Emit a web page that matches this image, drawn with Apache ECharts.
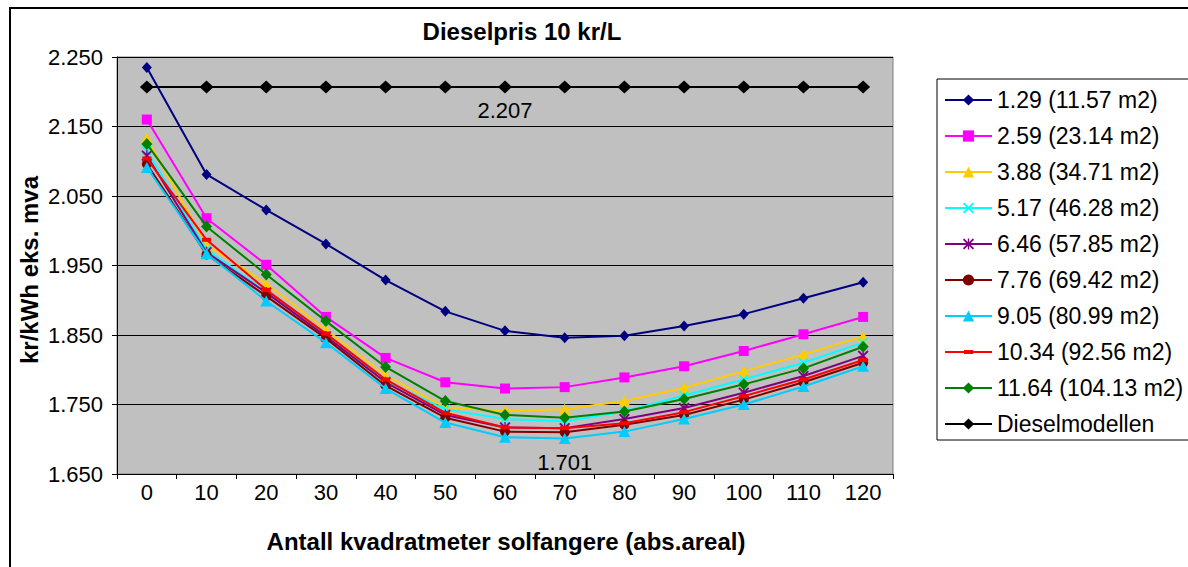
<!DOCTYPE html>
<html>
<head>
<meta charset="utf-8">
<script src="https://cdn.jsdelivr.net/npm/echarts@6/dist/echarts.min.js"></script>
<style>
  html, body { margin: 0; padding: 0; background: #fff; }
  #chart { width: 1188px; height: 567px; }
</style>
</head>
<body>
<div id="chart"></div>
<script>
// Collector area on the x axis (m2)
const categories = ['0', '10', '20', '30', '40', '50', '60', '70', '80', '90', '100', '110', '120'];

// Value axis range
const yMin = 1.65;
const yMax = 2.25;
const yStep = 0.1;

// Cost in kr/kWh (excl. VAT) per configuration
const s1_29  = [2.235, 2.081, 2.030, 1.981, 1.929, 1.884, 1.856, 1.846, 1.849, 1.863, 1.880, 1.903, 1.926];
const s2_59  = [2.160, 2.018, 1.951, 1.876, 1.817, 1.782, 1.773, 1.775, 1.789, 1.805, 1.827, 1.851, 1.876];
const s3_88  = [2.133, 1.980, 1.924, 1.858, 1.792, 1.746, 1.741, 1.743, 1.755, 1.774, 1.798, 1.822, 1.848];
const s5_17  = [2.115, 1.973, 1.912, 1.848, 1.784, 1.743, 1.729, 1.726, 1.740, 1.763, 1.786, 1.810, 1.839];
const s6_46  = [2.108, 1.969, 1.911, 1.848, 1.782, 1.735, 1.717, 1.716, 1.729, 1.745, 1.767, 1.791, 1.820];
const s7_76  = [2.096, 1.966, 1.906, 1.845, 1.777, 1.731, 1.711, 1.710, 1.721, 1.735, 1.757, 1.782, 1.810];
const s9_05  = [2.091, 1.967, 1.899, 1.839, 1.773, 1.724, 1.703, 1.701, 1.711, 1.729, 1.750, 1.776, 1.805];
const s10_34 = [2.104, 1.987, 1.915, 1.852, 1.786, 1.738, 1.717, 1.716, 1.723, 1.739, 1.762, 1.786, 1.814];
const s11_64 = [2.125, 2.006, 1.937, 1.870, 1.804, 1.755, 1.735, 1.731, 1.740, 1.758, 1.779, 1.802, 1.833];
const diesel = [2.207, 2.207, 2.207, 2.207, 2.207, 2.207, 2.207, 2.207, 2.207, 2.207, 2.207, 2.207, 2.207];

const seriesNames = [
  '1.29 (11.57 m2)', '2.59 (23.14 m2)', '3.88 (34.71 m2)', '5.17 (46.28 m2)',
  '6.46 (57.85 m2)', '7.76 (69.42 m2)', '9.05 (80.99 m2)', '10.34 (92.56 m2)',
  '11.64 (104.13 m2)', 'Dieselmodellen'
];
const seriesValues = [s1_29, s2_59, s3_88, s5_17, s6_46, s7_76, s9_05, s10_34, s11_64, diesel];

const FONT = '"Liberation Sans", Arial, sans-serif';

// Marker shapes
const CROSS = 'path://M0,1.2L1.2,0L5,3.8L8.8,0L10,1.2L6.2,5L10,8.8L8.8,10L5,6.2L1.2,10L0,8.8L3.8,5Z';
const STAR = 'path://M0,1.2L1.2,0L5,3.8L8.8,0L10,1.2L6.2,5L10,8.8L8.8,10L5,6.2L1.2,10L0,8.8L3.8,5Z M4.4,0L5.6,0L5.6,10L4.4,10Z';
// Legend key for the dash-marker series: a thin line with a short bar in the middle
const DASH_KEY = 'path://M0,1L47,1L47,3L0,3Z M19,0L28,0L28,4L19,4Z';

const styles = [
  { color: '#000080', symbol: 'diamond', size: [10, 11] },
  { color: '#FF00FF', symbol: 'rect', size: [10, 10] },
  { color: '#FFCC00', symbol: 'triangle', size: [12, 11] },
  { color: '#00FFFF', symbol: CROSS, size: [10, 10] },
  { color: '#800080', symbol: STAR, size: [11, 11] },
  { color: '#800000', symbol: 'circle', size: [10, 10] },
  { color: '#00CCFF', symbol: 'triangle', size: [12, 11] },
  { color: '#FF0000', symbol: 'rect', size: [9, 4], legendIcon: DASH_KEY },
  { color: '#008000', symbol: 'diamond', size: [11, 12] },
  { color: '#000000', symbol: 'diamond', size: [14, 13] }
];

const valueLabel = (distance) => ({
  show: true,
  position: 'bottom',
  distance: distance,
  formatter: (p) => p.value.toFixed(3),
  fontSize: 22,
  fontFamily: FONT,
  color: '#000'
});

// Lowest point of the 9.05 curve and one point of the diesel line carry value labels
const minIndex = s9_05.indexOf(Math.min(...s9_05));
const dieselLabelIndex = 6;

const series = seriesValues.map((vals, k) => {
  const st = styles[k];
  let data = vals.slice();
  if (k === 6) {
    data = vals.map((v, i) => (i === minIndex ? { value: v, label: valueLabel(7) } : v));
  } else if (k === 9) {
    data = vals.map((v, i) => (i === dieselLabelIndex ? { value: v, label: valueLabel(6) } : v));
  }
  return {
    name: seriesNames[k],
    type: 'line',
    data: data,
    symbol: st.symbol,
    symbolSize: st.size,
    showAllSymbol: true,
    lineStyle: { color: st.color, width: 2 },
    itemStyle: { color: st.color, opacity: 1 },
    emphasis: { disabled: true },
    z: 2 + k
  };
});

const legendData = seriesNames.map((name, k) =>
  styles[k].legendIcon ? { name: name, icon: styles[k].legendIcon } : { name: name }
);

const chart = echarts.init(document.getElementById('chart'), null, { renderer: 'svg' });

chart.setOption({
  animation: false,
  backgroundColor: '#fff',
  textStyle: { fontFamily: FONT },
  grid: {
    left: 117, top: 57, width: 776, height: 417,
    show: true, backgroundColor: '#C0C0C0', borderColor: '#808080', borderWidth: 1,
    containLabel: false, outerBoundsMode: 'none'
  },
  xAxis: {
    type: 'category',
    data: categories,
    boundaryGap: true,
    axisLine: { show: true, lineStyle: { color: '#000', width: 1 } },
    axisTick: { show: true, length: 5, alignWithLabel: false, lineStyle: { color: '#000' } },
    axisLabel: { color: '#000', fontSize: 22, fontFamily: FONT, margin: 7 },
    splitLine: { show: false }
  },
  yAxis: {
    type: 'value',
    min: yMin, max: yMax, interval: yStep,
    axisLine: { show: true, lineStyle: { color: '#000', width: 1 } },
    axisTick: { show: true, length: 5, lineStyle: { color: '#000' } },
    axisLabel: { color: '#000', fontSize: 22, fontFamily: FONT, margin: 14, formatter: (v) => v.toFixed(3) },
    splitLine: { show: true, lineStyle: { color: '#000', width: 1 } }
  },
  legend: {
    orient: 'vertical',
    left: 937, top: 79,
    itemWidth: 47, itemHeight: 14, itemGap: 12,
    padding: [9, 14, 4, 7],
    borderColor: '#000', borderWidth: 1,
    backgroundColor: '#fff',
    selectedMode: false,
    textStyle: { fontSize: 23, color: '#000', fontFamily: FONT, lineHeight: 24 },
    data: legendData
  },
  graphic: [
    {
      type: 'rect', silent: true, z: 100,
      shape: { x: 10, y: 8, width: 1190, height: 600 },
      style: { fill: 'transparent', stroke: '#000', lineWidth: 2 }
    },
    {
      type: 'text', x: 522, y: 31, silent: true,
      style: { text: 'Dieselpris 10 kr/L', fontSize: 24, fontWeight: 'bold', fontFamily: FONT, fill: '#000', align: 'center', verticalAlign: 'middle' }
    },
    {
      type: 'text', x: 29, y: 270, rotation: Math.PI / 2, silent: true,
      style: { text: 'kr/kWh eks. mva', fontSize: 24, fontWeight: 'bold', fontFamily: FONT, fill: '#000', align: 'center', verticalAlign: 'middle' }
    },
    {
      type: 'text', x: 506, y: 541, silent: true,
      style: { text: 'Antall kvadratmeter solfangere (abs.areal)', fontSize: 24, fontWeight: 'bold', fontFamily: FONT, fill: '#000', align: 'center', verticalAlign: 'middle' }
    }
  ],
  series: series
});
</script>
</body>
</html>
